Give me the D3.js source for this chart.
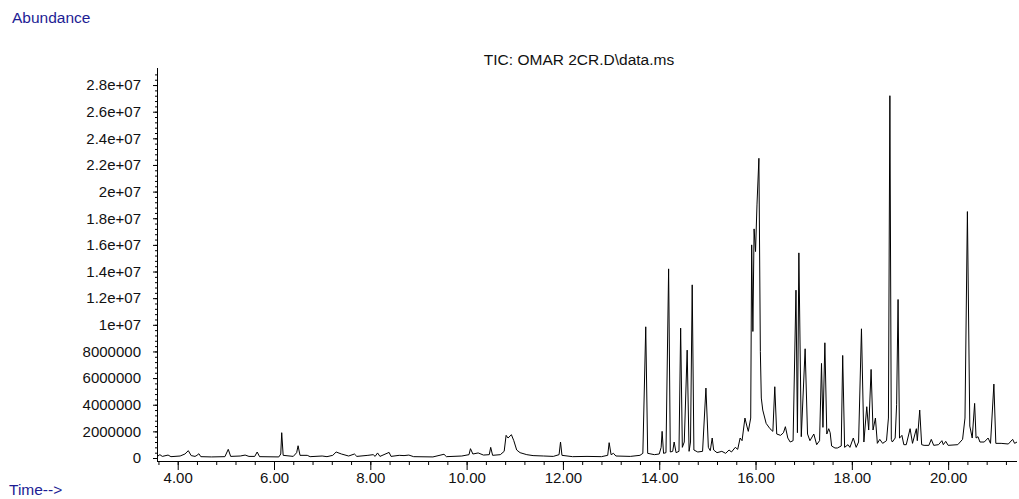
<!DOCTYPE html>
<html>
<head>
<meta charset="utf-8">
<script src="https://cdn.jsdelivr.net/npm/d3@7"></script>
<style>
  body { margin: 0; background: white; }
  text { font-family: "Liberation Sans", Arial, sans-serif; }
</style>
</head>
<body>
<div id="myVis"></div>
<script>
var w = 1019;
var h = 499;

// retention time (min) and abundance (millions)
var times = [
  3.57, 3.63, 3.68, 3.80, 3.86, 4.05, 4.15, 4.22, 4.28, 4.36, 4.40, 4.44, 4.48, 4.70, 4.98,
  5.05, 5.10, 5.30, 5.40, 5.48, 5.60, 5.65, 5.70, 6.10, 6.14, 6.16, 6.19, 6.40, 6.47, 6.50,
  6.54, 6.69, 6.75, 7.00, 7.10, 7.22, 7.29, 7.40, 7.55, 7.67, 7.72, 7.95, 8.06, 8.10, 8.15,
  8.20, 8.39, 8.43, 8.60, 8.70, 8.80, 8.90, 9.30, 9.53, 9.58, 9.90, 10.05, 10.08, 10.13, 10.24,
  10.35, 10.47, 10.50, 10.54, 10.70, 10.78, 10.82, 10.86, 10.93, 10.98, 11.04, 11.11, 11.25, 11.38, 11.60,
  11.80, 11.92, 11.95, 11.98, 12.20, 12.50, 12.80, 12.93, 12.96, 13.00, 13.05, 13.10, 13.40, 13.60,
  13.66, 13.72, 13.76, 13.90, 14.00, 14.04, 14.06, 14.09, 14.14, 14.195, 14.23, 14.28, 14.31, 14.35,
  14.41, 14.445, 14.48, 14.52, 14.58, 14.62, 14.65, 14.685, 14.72, 14.80, 14.90, 14.97, 15.02, 15.06,
  15.10, 15.13, 15.20, 15.30, 15.38, 15.45, 15.50, 15.58, 15.63, 15.68, 15.72, 15.78, 15.82, 15.85,
  15.90, 15.92, 15.945, 15.97, 16.00, 16.03, 16.07, 16.10, 16.12, 16.15, 16.22, 16.30, 16.36, 16.40,
  16.44, 16.52, 16.58, 16.62, 16.67, 16.72, 16.78, 16.84, 16.87, 16.90, 16.95, 17.03, 17.08, 17.13,
  17.21, 17.27, 17.33, 17.37, 17.40, 17.44, 17.48, 17.52, 17.55, 17.58, 17.65, 17.70, 17.78, 17.81,
  17.85, 17.92, 17.96, 18.03, 18.09, 18.14, 18.20, 18.25, 18.31, 18.35, 18.40, 18.44, 18.49, 18.53,
  18.58, 18.64, 18.72, 18.76, 18.79, 18.82, 18.84, 18.90, 18.93, 18.96, 18.99, 19.02, 19.04, 19.08,
  19.13, 19.21, 19.26, 19.34, 19.36, 19.41, 19.45, 19.50, 19.60, 19.65, 19.70, 19.80, 19.87, 19.90,
  19.95, 20.00, 20.20, 20.30, 20.35, 20.40, 20.45, 20.50, 20.55, 20.58, 20.62, 20.66, 20.75, 20.83,
  20.88, 20.95, 20.99, 21.10, 21.25, 21.34, 21.38, 21.43
];
var abundance = [
  0.10, 0.25, 0.12, 0.22, 0.10, 0.15, 0.30, 0.55, 0.18, 0.12, 0.20, 0.32, 0.10, 0.08, 0.10,
  0.65, 0.12, 0.15, 0.22, 0.12, 0.12, 0.45, 0.10, 0.08, 0.30, 1.90, 0.20, 0.12, 0.40, 0.92,
  0.20, 0.20, 0.10, 0.15, 0.10, 0.20, 0.45, 0.30, 0.15, 0.30, 0.12, 0.20, 0.25, 0.12, 0.38,
  0.12, 0.42, 0.12, 0.20, 0.18, 0.22, 0.10, 0.08, 0.28, 0.10, 0.15, 0.25, 0.70, 0.30, 0.38,
  0.22, 0.25, 0.80, 0.20, 0.25, 0.50, 1.70, 1.50, 1.75, 1.30, 0.60, 0.40, 0.25, 0.18, 0.15,
  0.12, 0.25, 1.20, 0.20, 0.10, 0.12, 0.10, 0.20, 1.15, 0.25, 0.35, 0.15, 0.12, 0.20,
  0.35, 9.85, 0.35, 0.25, 0.30, 0.80, 2.00, 0.35, 0.40, 14.2, 0.45, 0.50, 1.20, 0.40,
  0.50, 9.75, 0.80, 1.20, 8.10, 0.50, 1.20, 13.0, 0.60, 0.45, 0.50, 5.25, 0.80, 0.55,
  1.50, 0.60, 0.40, 0.50, 0.35, 0.60, 0.45, 0.80, 0.65, 1.50, 1.30, 3.00, 2.40, 2.00,
  3.00, 16.0, 9.50, 17.2, 15.5, 19.0, 22.5, 8.00, 4.50, 3.60, 2.60, 2.20, 2.00, 5.35,
  1.80, 1.70, 1.90, 2.35, 1.50, 1.20, 1.30, 12.6, 1.90, 15.4, 1.60, 8.20, 1.80, 1.30,
  1.80, 1.00, 1.30, 7.10, 2.30, 8.65, 1.80, 2.20, 1.90, 0.90, 0.75, 0.75, 0.90, 7.70,
  0.80, 1.00, 0.80, 1.50, 0.80, 1.20, 9.70, 1.20, 3.85, 2.10, 6.65, 2.10, 3.00, 1.10,
  1.40, 1.10, 1.30, 3.00, 27.2, 1.40, 1.20, 1.50, 4.00, 11.9, 1.50, 1.60, 1.70, 1.00,
  1.00, 2.20, 1.10, 2.20, 1.30, 3.60, 1.00, 0.95, 0.95, 1.40, 0.95, 1.00, 1.30, 1.00,
  1.25, 0.95, 1.00, 1.40, 3.00, 18.5, 2.40, 1.50, 4.10, 1.50, 1.60, 1.20, 1.20, 1.50,
  1.10, 5.55, 1.10, 1.10, 1.05, 1.40, 1.10, 1.20
];

var xTicks = [4, 6, 8, 10, 12, 14, 16, 18, 20];
var xTickLabels = ["4.00", "6.00", "8.00", "10.00", "12.00", "14.00", "16.00", "18.00", "20.00"];
var yTicks = [0, 2e6, 4e6, 6e6, 8e6, 1e7, 1.2e7, 1.4e7, 1.6e7, 1.8e7, 2e7, 2.2e7, 2.4e7, 2.6e7, 2.8e7];
var yTickLabels = ["0", "2000000", "4000000", "6000000", "8000000", "1e+07", "1.2e+07", "1.4e+07",
  "1.6e+07", "1.8e+07", "2e+07", "2.2e+07", "2.4e+07", "2.6e+07", "2.8e+07"];

var blue = "#1d1d94";

var svg = d3.select("#myVis").append("svg")
  .attr("width", w)
  .attr("height", h)
  .style("background-color", "white");

var xScale = d3.scaleLinear().domain([3.57, 21.43]).range([157, 1017]);
var yScale = d3.scaleLinear().domain([0, 2.928e7]).range([458, 68]);

var pts = times.map(function(t, i) { return [t, abundance[i] * 1e6]; });

// trace
svg.append("path")
  .datum(pts)
  .attr("fill", "none")
  .attr("stroke", "black")
  .attr("stroke-width", 1)
  .attr("d", d3.line()
    .x(function(d) { return xScale(d[0]); })
    .y(function(d) { return yScale(d[1]); }));

// x axis
var xMinor = d3.range(3.6, 21.43, 0.4);
svg.append("g")
  .attr("transform", "translate(0,461)")
  .call(d3.axisBottom(xScale).tickValues(xMinor).tickSize(4).tickFormat(""))
  .call(function(g) { g.select(".domain").remove(); });
var xAxis = svg.append("g")
  .attr("transform", "translate(0,461)")
  .call(d3.axisBottom(xScale).tickValues(xTicks).tickSizeOuter(0).tickSize(9).tickPadding(2)
    .tickFormat(function(d, i) { return xTickLabels[i]; }));
xAxis.selectAll("text").attr("font-size", "15px").attr("fill", "#111").attr("font-family", null);
xAxis.select(".domain").attr("d", "M157,0.5H1017");

// y axis
var yMinor = d3.range(0, 2.92e7, 4e5);
svg.append("g")
  .attr("transform", "translate(157,0)")
  .call(d3.axisLeft(yScale).tickValues(yMinor).tickSizeInner(2).tickSizeOuter(0).tickFormat(""))
  .call(function(g) {
    g.select(".domain").remove();
    g.selectAll("line").attr("x2", -2).attr("x1", 1);
  });
var yAxis = svg.append("g")
  .attr("transform", "translate(157,0)")
  .call(d3.axisLeft(yScale).tickValues(yTicks).tickSize(4).tickPadding(12)
    .tickFormat(function(d, i) { return yTickLabels[i]; }));
yAxis.selectAll("text").attr("font-size", "15px").attr("fill", "#111").attr("font-family", null);
yAxis.select(".domain").attr("d", "M0.5,68V461");

// labels
svg.append("text").attr("x", 12).attr("y", 23).attr("fill", blue)
  .attr("font-size", "15.5px").text("Abundance");
svg.append("text").attr("x", 9).attr("y", 495).attr("fill", blue)
  .attr("font-size", "15.5px").text("Time-->");
svg.append("text").attr("x", 579).attr("y", 65).attr("text-anchor", "middle")
  .attr("fill", "#111").attr("font-size", "15.5px").text("TIC: OMAR 2CR.D\\data.ms");
</script>
</body>
</html>
